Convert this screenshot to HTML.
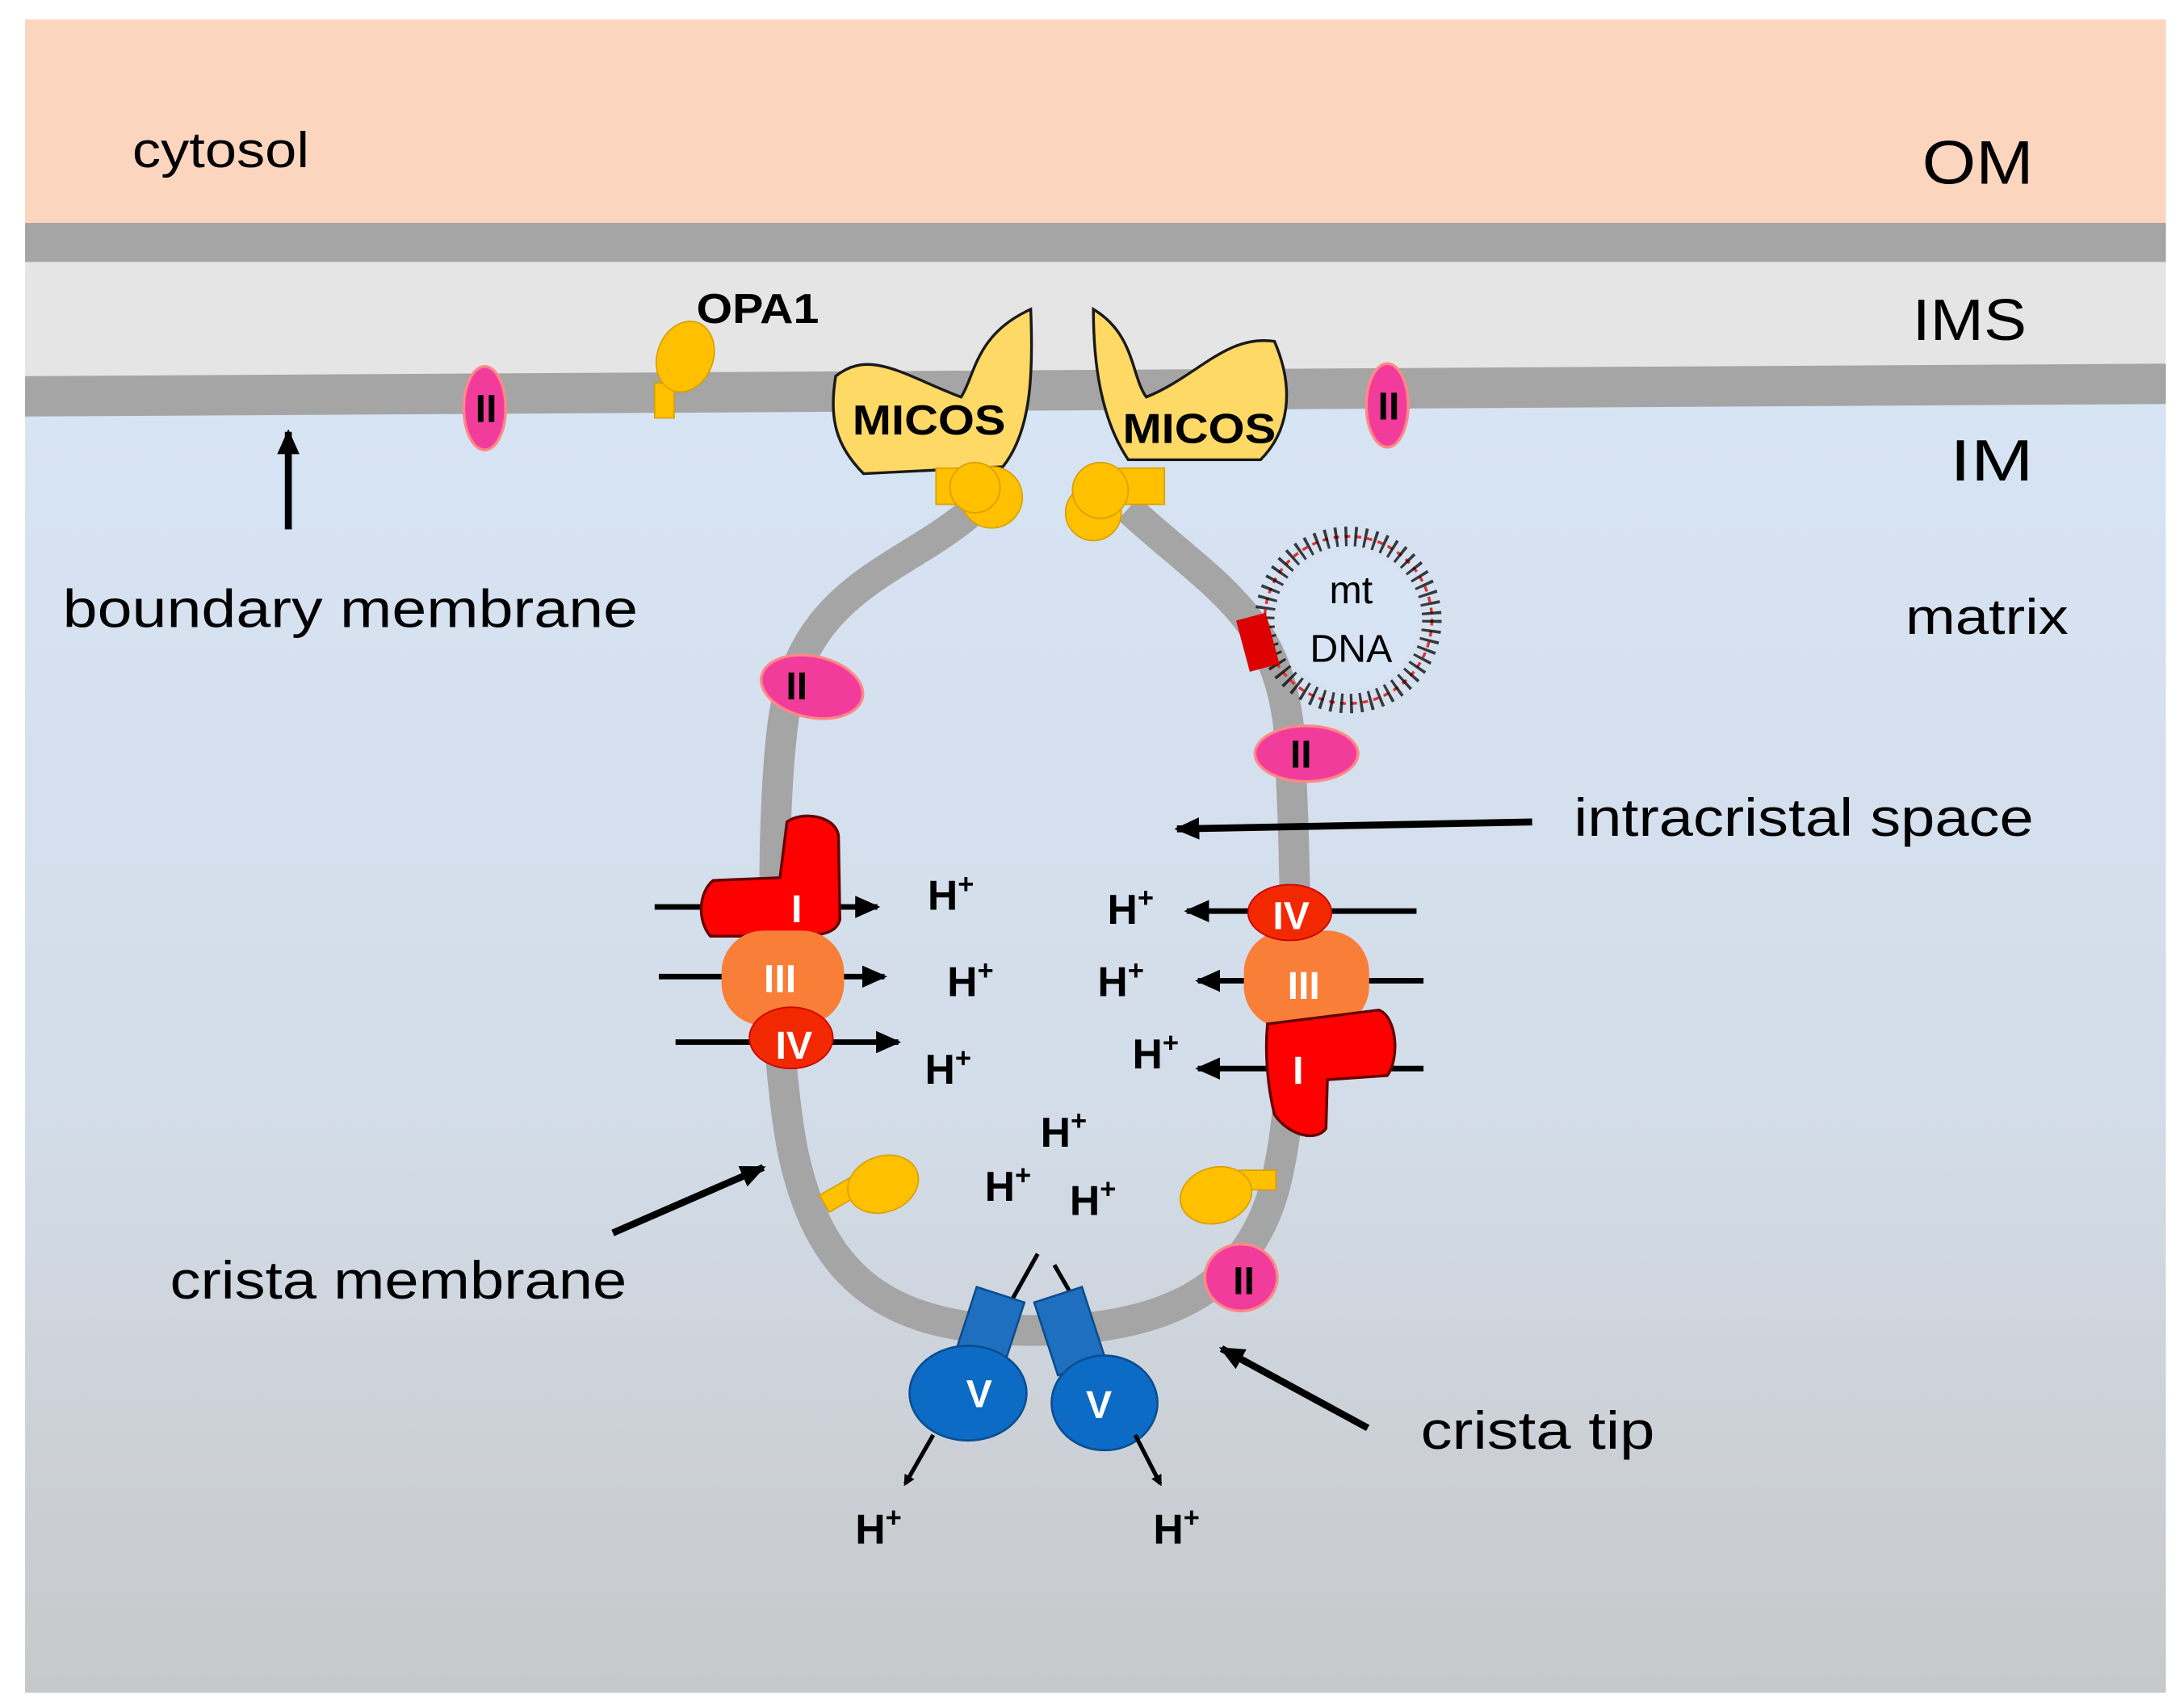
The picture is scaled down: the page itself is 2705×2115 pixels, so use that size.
<!DOCTYPE html>
<html><head><style>html,body{margin:0;padding:0;background:#fff}svg{display:block}</style></head>
<body>
<svg width="2705" height="2115" viewBox="0 0 1568 1226" xmlns="http://www.w3.org/2000/svg" font-family="Liberation Sans, sans-serif">
<defs>
<linearGradient id="mx" x1="0" y1="0" x2="0" y2="1">
<stop offset="0" stop-color="#d7e4f4"/><stop offset="0.55" stop-color="#d3dde9"/><stop offset="1" stop-color="#c7c8ca"/>
</linearGradient>
<marker id="ah" markerWidth="8" markerHeight="8" refX="6" refY="4" orient="auto" markerUnits="userSpaceOnUse" viewBox="0 0 8 8"><path d="M0,0 L8,4 L0,8 z" fill="#000"/></marker>
<marker id="ab" markerWidth="18" markerHeight="16" refX="16" refY="8" orient="auto" markerUnits="userSpaceOnUse"><path d="M0,0 L18,8 L0,16 z" fill="#000"/></marker>
</defs>
<rect x="18" y="14" width="1537" height="150" fill="#fcd5bf"/>
<rect x="18" y="160" width="1537" height="30" fill="#a5a5a5"/>
<rect x="18" y="188" width="1537" height="90" fill="#e5e5e5"/>
<polygon points="18,285 1555,276 1555,1215 18,1215" fill="url(#mx)"/>
<polygon points="18,270 1555,261 1555,290 18,299" fill="#a5a5a5"/>
<path d="M700,365 C650,410 575,420 562,520 C552,600 555,760 570,830 C590,920 640,955 740,955 C830,955 900,930 918,840 C935,760 930,600 925,520 C915,440 870,420 810,365" fill="none" stroke="#a5a5a5" stroke-width="22"/>
<g font-size="36" fill="#000">
<text x="95" y="120" textLength="127" lengthAdjust="spacingAndGlyphs">cytosol</text>
<text x="1380" y="132" font-size="44" textLength="80" lengthAdjust="spacingAndGlyphs">OM</text>
<text x="1373" y="244" font-size="42" textLength="82" lengthAdjust="spacingAndGlyphs">IMS</text>
<text x="1400" y="345" font-size="42" textLength="60" lengthAdjust="spacingAndGlyphs">IM</text>
<text x="1368" y="455" textLength="117" lengthAdjust="spacingAndGlyphs">matrix</text>
<text x="45" y="450" font-size="38" textLength="413" lengthAdjust="spacingAndGlyphs">boundary membrane</text>
<text x="1130" y="600" font-size="38" textLength="330" lengthAdjust="spacingAndGlyphs">intracristal space</text>
<text x="122" y="932" font-size="38" textLength="328" lengthAdjust="spacingAndGlyphs">crista membrane</text>
<text x="1020" y="1040" font-size="38" textLength="168" lengthAdjust="spacingAndGlyphs">crista tip</text>
</g>
<line x1="207" y1="380" x2="207" y2="310" stroke="#000" stroke-width="5" marker-end="url(#ab)"/>
<line x1="1100" y1="590" x2="845" y2="595" stroke="#000" stroke-width="5" marker-end="url(#ab)"/>
<line x1="440" y1="885" x2="548" y2="838" stroke="#000" stroke-width="5" marker-end="url(#ab)"/>
<line x1="982" y1="1025" x2="877" y2="968" stroke="#000" stroke-width="5" marker-end="url(#ab)"/>
<g fill="#f23c9b" stroke="#f88" stroke-width="2">
<ellipse cx="348" cy="293" rx="15" ry="30"/>
<ellipse cx="996" cy="291" rx="15" ry="30"/>
<ellipse cx="583" cy="493" rx="37" ry="22" transform="rotate(12 583 493)"/>
<ellipse cx="938" cy="541" rx="37" ry="20"/>
<ellipse cx="891" cy="917" rx="26" ry="24"/>
</g>
<g font-weight="bold" font-size="28" fill="#000" text-anchor="middle">
<text x="349" y="303">II</text><text x="997" y="301">II</text><text x="572" y="502">II</text><text x="934" y="551">II</text><text x="893" y="929">II</text>
</g>
<g fill="#ffc000" stroke="#d9a000" stroke-width="1">
<rect x="470" y="275" width="14" height="25"/><ellipse cx="492" cy="256" rx="20" ry="26" transform="rotate(20 492 256)"/>
<rect x="590" y="850" width="28" height="14" transform="rotate(-30 604 857)"/><ellipse cx="634" cy="850" rx="26" ry="20" transform="rotate(-20 634 850)"/>
<rect x="890" y="840" width="26" height="14"/><ellipse cx="873" cy="858" rx="26" ry="20" transform="rotate(-15 873 858)"/>
</g>
<text x="500" y="232" font-weight="bold" font-size="30" textLength="88" lengthAdjust="spacingAndGlyphs">OPA1</text>
<g fill="#fed966" stroke="#1a1a1a" stroke-width="2">
<path d="M600,270 C625,250 650,270 690,285 C700,270 700,240 740,222 C742,270 740,310 720,335 L620,340 C600,320 595,300 600,270 Z"/>
<path d="M785,222 C815,240 812,270 823,285 C860,270 880,240 915,245 C930,280 925,310 905,330 L810,330 C790,300 785,260 785,222 Z"/>
</g>
<g fill="#ffc000" stroke="#d9a000" stroke-width="1">
<rect x="672" y="336" width="40" height="26"/><circle cx="712" cy="357" r="22"/><circle cx="700" cy="350" r="18"/>
<rect x="800" y="336" width="36" height="26"/><circle cx="785" cy="368" r="20"/><circle cx="790" cy="352" r="20"/>
</g>
<g font-weight="bold" font-size="30" fill="#000"><text x="612" y="312" textLength="110" lengthAdjust="spacingAndGlyphs">MICOS</text><text x="806" y="318" textLength="110" lengthAdjust="spacingAndGlyphs">MICOS</text></g>
<circle cx="968" cy="445" r="60" fill="none" stroke="#d33" stroke-width="2" stroke-dasharray="4 4"/>
<circle cx="968" cy="445" r="60" fill="none" stroke="#000" stroke-width="14" stroke-dasharray="2 5" opacity="0.75"/>
<circle cx="968" cy="445" r="50" fill="#d7e4f4"/>
<text x="970" y="433" font-size="28" text-anchor="middle">mt</text>
<text x="970" y="475" font-size="28" text-anchor="middle">DNA</text>
<rect x="892" y="442" width="22" height="38" fill="#d00" transform="rotate(-15 903 461)"/>
<g stroke="#000" stroke-width="4">
<line x1="470" y1="651" x2="630" y2="651" marker-end="url(#ab)"/>
<line x1="473" y1="701" x2="635" y2="701" marker-end="url(#ab)"/>
<line x1="485" y1="748" x2="645" y2="748" marker-end="url(#ab)"/>
<line x1="1017" y1="654" x2="852" y2="654" marker-end="url(#ab)"/>
<line x1="1022" y1="704" x2="860" y2="704" marker-end="url(#ab)"/>
<line x1="1022" y1="767" x2="860" y2="767" marker-end="url(#ab)"/>
</g>
<path d="M565,590 C575,582 600,585 602,600 L603,660 C600,672 585,672 560,672 L510,672 C500,660 502,640 512,632 L560,630 Z" fill="#f00" stroke="#600" stroke-width="2"/>
<rect x="518" y="668" width="88" height="68" rx="30" fill="#f97e38"/>
<ellipse cx="568" cy="745" rx="30" ry="22" fill="#f22800" stroke="#c00"/>
<rect x="893" y="668" width="90" height="70" rx="30" fill="#f97e38"/>
<ellipse cx="926" cy="655" rx="30" ry="20" fill="#f22800" stroke="#c00"/>
<path d="M910,735 L990,725 C1003,730 1005,760 996,772 L953,775 L952,810 C945,820 925,815 915,800 C910,780 908,755 910,735 Z" fill="#f00" stroke="#600" stroke-width="2"/>
<g font-weight="bold" font-size="28" fill="#fff" text-anchor="middle">
<text x="572" y="662">I</text><text x="560" y="712">III</text><text x="570" y="760">IV</text>
<text x="927" y="667">IV</text><text x="936" y="717">III</text><text x="932" y="778">I</text>
</g>
<g stroke="#000" stroke-width="3"><line x1="745" y1="900" x2="726" y2="934"/><line x1="757" y1="908" x2="772" y2="934"/></g>
<g fill="#1f6fc0" stroke="#0a4d90" stroke-width="1.5">
<rect x="692" y="928" width="36" height="55" transform="rotate(18 710 955)"/>
<rect x="750" y="928" width="36" height="55" transform="rotate(-18 768 955)"/>
<ellipse cx="695" cy="1000" rx="42" ry="34" fill="#0c6bc4"/>
<ellipse cx="793" cy="1007" rx="38" ry="34" fill="#0c6bc4"/>
</g>
<g font-weight="bold" font-size="28" fill="#fff" text-anchor="middle"><text x="703" y="1010">V</text><text x="789" y="1018">V</text></g>
<g stroke="#000" stroke-width="3"><line x1="670" y1="1030" x2="650" y2="1065" marker-end="url(#ah)"/><line x1="815" y1="1030" x2="833" y2="1065" marker-end="url(#ah)"/></g>
<g font-weight="bold" font-size="30" fill="#000">
<text x="666" y="653">H<tspan font-size="20" dy="-12">+</tspan></text>
<text x="680" y="715">H<tspan font-size="20" dy="-12">+</tspan></text>
<text x="664" y="778">H<tspan font-size="20" dy="-12">+</tspan></text>
<text x="795" y="663">H<tspan font-size="20" dy="-12">+</tspan></text>
<text x="788" y="715">H<tspan font-size="20" dy="-12">+</tspan></text>
<text x="813" y="767">H<tspan font-size="20" dy="-12">+</tspan></text>
<text x="747" y="823">H<tspan font-size="20" dy="-12">+</tspan></text>
<text x="707" y="862">H<tspan font-size="20" dy="-12">+</tspan></text>
<text x="768" y="872">H<tspan font-size="20" dy="-12">+</tspan></text>
<text x="614" y="1108">H<tspan font-size="20" dy="-12">+</tspan></text>
<text x="828" y="1108">H<tspan font-size="20" dy="-12">+</tspan></text>
</g>
</svg>
</body></html>
